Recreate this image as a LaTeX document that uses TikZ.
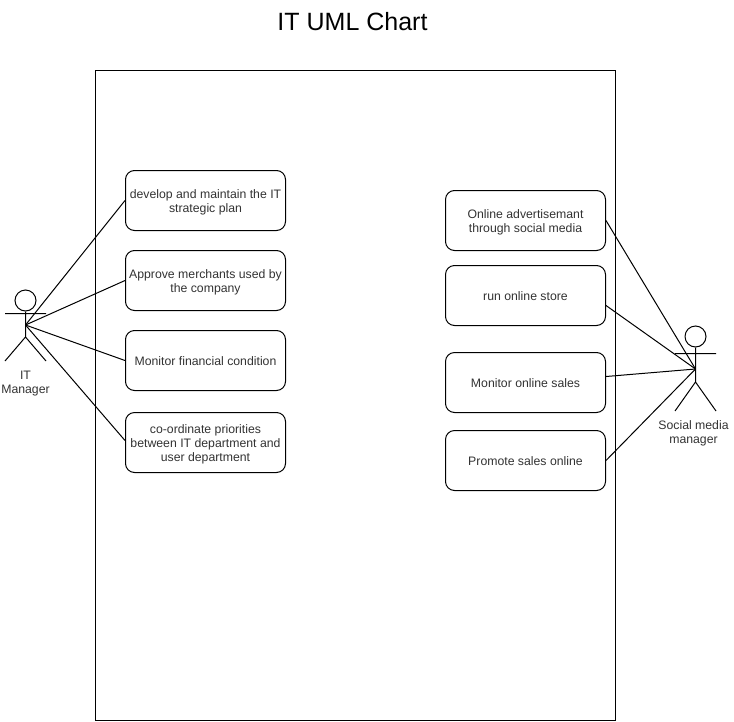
\documentclass[tikz,border=0pt]{standalone}
\usepackage{fontspec}
\setmainfont{Liberation Sans}
\definecolor{txt}{HTML}{333333}
\tikzset{
  usecase/.style={draw=black,line width=0.75pt,rounded corners=6.75pt,minimum width=120pt,minimum height=45pt,inner sep=0pt},
  casetext/.style={align=center,text=txt,inner sep=0pt,font=\fontsize{9.2}{10.5}\selectfont,yshift=-0.4pt},
  casetextm/.style={casetext,yshift=-0.8pt},
  actorlabel/.style={align=center,text=txt,inner sep=0pt,font=\fontsize{9.2}{10.5}\selectfont},
  actorline/.style={draw=black,line width=0.75pt},
  link/.style={draw=black,line width=0.75pt},
  sysbox/.style={draw=black,line width=0.75pt,minimum width=390pt,minimum height=487.5pt,inner sep=0pt}
}
\begin{document}
\begin{tikzpicture}[x=0.75pt,y=-0.75pt]
\useasboundingbox (0,0) rectangle (734,721);
\fill[white] (0,0) rectangle (734,721);
\node[text=black,font=\fontsize{18.75}{22}\selectfont,inner sep=0pt] (title) at (352.5,22) {IT UML Chart};
\node[sysbox] (system) at (355.5,395.5) {};
% use cases, left
\node[usecase,label={[casetextm]center:{develop and maintain the IT\\strategic plan}}] (a) at (205.5,200.5) {};
\node[usecase,label={[casetextm]center:{Approve merchants used by\\the company}}] (b) at (205.5,280.5) {};
\node[usecase,label={[casetext]center:{Monitor financial condition}}] (c) at (205.5,360.5) {};
\node[usecase,label={[casetextm]center:{co-ordinate priorities\\between IT department and\\user department}}] (d) at (205.5,442.5) {};
% use cases, right
\node[usecase,label={[casetextm]center:{Online advertisemant\\through social media}}] (e) at (525.5,220.5) {};
\node[usecase,label={[casetext]center:{run online store}}] (f) at (525.5,295.5) {};
\node[usecase,label={[casetext]center:{Monitor online sales}}] (g) at (525.5,382.5) {};
\node[usecase,label={[casetext]center:{Promote sales online}}] (h) at (525.5,460.5) {};
% actor left
\node[circle,actorline,minimum size=15.75pt,inner sep=0pt] (headL) at (25.5,300.5) {};
\coordinate (armLa) at (5,313.5);
\coordinate (armLb) at (46,313.5);
\coordinate (hipL) at (25.5,337);
\coordinate (legLa) at (5,361);
\coordinate (legLb) at (46,361);
\coordinate (hubL) at (25.5,325);
\draw[actorline] (headL.south) -- (hipL) (armLa) -- (armLb) (legLa) -- (hipL) -- (legLb);
\node[actorlabel] (labelL) at (25.5,383.5) {IT\\Manager};
% actor right
\node[circle,actorline,minimum size=15.75pt,inner sep=0pt] (headR) at (695.5,336.5) {};
\coordinate (armRa) at (675,353.5);
\coordinate (armRb) at (716,353.5);
\coordinate (hipR) at (695.5,382);
\coordinate (legRa) at (675,411);
\coordinate (legRb) at (716,411);
\coordinate (hubR) at (695.5,369);
\draw[actorline] (headR.south) -- (hipR) (armRa) -- (armRb) (legRa) -- (hipR) -- (legRb);
\node[actorlabel] (labelR) at (693.5,433) {Social media\\manager};
% connectors
\draw[link] (hubL) -- (a.west);
\draw[link] (hubL) -- (b.west);
\draw[link] (hubL) -- (c.west);
\draw[link] (hubL) -- ([yshift=1.5pt]d.west);
\draw[link] (hubR) -- (e.east);
\draw[link] (hubR) -- ([yshift=-7.5pt]f.east);
\draw[link] (hubR) -- ([yshift=4.5pt]g.east);
\draw[link] (hubR) -- (h.east);
\end{tikzpicture}
\end{document}
